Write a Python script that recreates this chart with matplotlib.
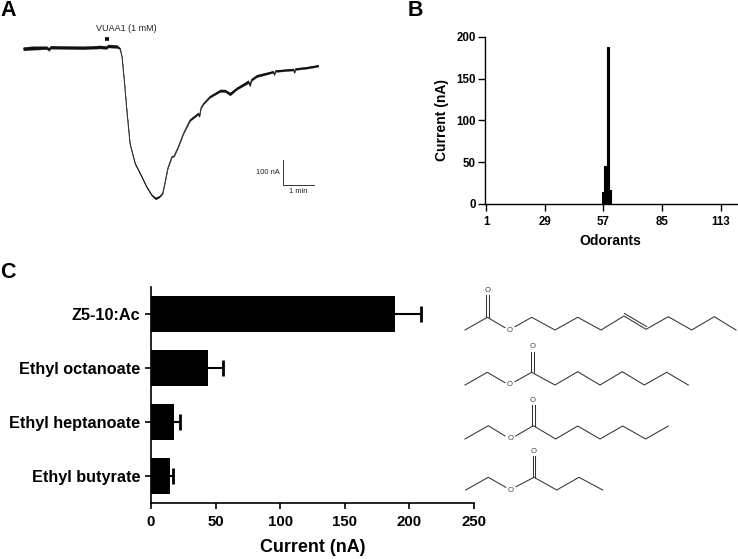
# -*- coding: utf-8 -*-
import matplotlib
matplotlib.use('Agg')
import matplotlib.pyplot as plt

plt.rcParams['font.family'] = ['Liberation Sans', 'DejaVu Sans']

W, H = 738, 559

# panel A - current trace (min, nA relative to baseline)
trace_t = [0, .31, .73, .80, .85, 1.35, 1.88, 2.40, 2.60, 2.65, 2.92, 3.02, 3.08, 3.15, 3.23, 3.33, 3.49, 3.65, 3.85, 4.01,
           4.13, 4.25, 4.35, 4.43, 4.51, 4.64, 4.71, 4.84, 5.0, 5.21, 5.47, 5.50, 5.55, 5.63, 5.83, 6.15, 6.30,
           6.46, 6.67, 7.03, 7.08, 7.13, 7.29, 7.81, 7.84, 7.88, 8.44, 8.47, 8.50, 8.85, 9.22]
trace_i = [-4, -1, 0, -7, 2, 1, 0, 3, 1, 7, 5, -3, -36, -129, -249, -383, -463, -503, -556, -589,
           -603, -596, -583, -536, -483, -436, -433, -396, -343, -289, -263, -275, -240, -223, -196, -172, -172,
           -185, -163, -136, -150, -128, -113, -96, -108, -93, -87, -100, -85, -80, -72]
trace_noise = [7, 7, 6, 6, 6, 6, 6, 6, 6, 6, 6, 3, 1, 1, 1, 2, 3, 3, 3, 3,
               4, 3, 2, 1, 1, 2, 2, 2, 2, 4, 4, 2, 3, 3, 4, 5, 5,
               6, 5, 6, 5, 5, 5, 4, 2, 4, 4, 2, 4, 4, 4]
stim_t = [2.55, 2.67]
stim_i = 34

# panel B - odorant screen
odorant_id = [57, 58, 59, 60]
odorant_current = [14, 45, 188, 17]
odorant_ticks = [1, 29, 57, 85, 113]
current_ticks = [0, 50, 100, 150, 200]

# panel C - responses
names = ['Z5-10:Ac', 'Ethyl octanoate', 'Ethyl heptanoate', 'Ethyl butyrate']
means = [189, 44.5, 17.5, 14.5]
sems = [20, 11, 5, 2.5]

# skeletal formulas, (x, y) vertices in px
mol_bonds = [
    [(465, 330), (487.3, 317.3), (505, 327.7)],
    [(515, 326.7), (531.7, 317.3), (555, 330), (577.7, 317.3), (601, 330), (624, 316),
     (646, 329.3), (668.3, 316.7), (691.7, 330), (714.3, 316.7), (736, 330)],
    [(465, 385), (487.3, 372.3), (505, 382.7)],
    [(515, 381.7), (531.7, 372.3), (555, 385), (577.7, 371.7), (600, 385), (622.3, 371.7),
     (644.3, 385), (666.7, 372.3), (688.3, 385)],
    [(465, 439), (488.3, 425.7), (505, 436)],
    [(515.7, 436), (533.3, 425.7), (555.7, 439), (577.7, 426), (600, 439), (622.7, 426),
     (645.7, 439), (668.3, 426)],
    [(465.7, 490), (488.3, 477.3), (505.7, 487.3)],
    [(516, 486.7), (534, 477.3), (556.7, 490), (579, 477.3), (602.7, 490)],
    [(624.5, 313.5), (646.5, 326.5)],
    [(486, 317), (486, 295)], [(488.7, 317), (488.7, 295)],
    [(531, 372), (531, 352)], [(533.7, 372), (533.7, 352)],
    [(532, 425.5), (532, 405)], [(534.7, 425.5), (534.7, 405)],
    [(532.7, 477), (532.7, 456)], [(535.4, 477), (535.4, 456)],
]
mol_oxygen = [(510, 330), (487.3, 291), (510, 385), (532.5, 346.5), (510.3, 439), (533, 400.5),
              (511, 490), (534, 451.5)]


def px_axes(left, top, right, bottom):
    return fig.add_axes([left / W, 1 - bottom / H, (right - left) / W, (bottom - top) / H])


fig = plt.figure(figsize=(W / 100, H / 100), dpi=100)

# ---- A
axA = px_axes(10, 20, 330, 215)
px_min, px_na = 32., 4.
axA.set_xlim((10 - 23.3) / px_min, (330 - 23.3) / px_min)
axA.set_ylim(-(215 - 47.7) * px_na, (47.7 - 20) * px_na)
axA.axis('off')
lower = [i - n for i, n in zip(trace_i, trace_noise)]
upper = [i + n for i, n in zip(trace_i, trace_noise)]
axA.fill_between(trace_t, lower, upper, color='#111111', lw=0.2)
axA.plot(trace_t, trace_i, color='#111111', lw=0.5)
axA.plot(stim_t, [stim_i, stim_i], color='k', lw=2.6, solid_capstyle='butt')
axA.text(3.22, 58, 'VUAA1 (1 mM)', fontsize=6.5, ha='center', va='bottom', color='#222222')
# scale bar
axA.plot([8.10, 8.10, 9.09], [-449, -549, -549], color='#333333', lw=0.7)
axA.text(8.0, -499, '100 nA', fontsize=5.4, ha='right', va='center', color='#222222')
axA.text(8.6, -562, '1 min', fontsize=5.4, ha='center', va='top', color='#222222')

# ---- B
axB = px_axes(485, 36.7, 738, 204)
axB.bar(odorant_id, odorant_current, width=1.0, color='k', edgecolor='k', lw=0.8)
axB.set_xlim(0.52, 121.2)
axB.set_ylim(0, 200)
axB.set_xticks(odorant_ticks)
axB.set_yticks(current_ticks)
axB.tick_params(width=1.0, length=5, labelsize=8.3, pad=1.5)
axB.tick_params(axis='x', pad=4)
for lab in axB.get_xticklabels() + axB.get_yticklabels():
    lab.set_fontweight('bold')
axB.set_xlabel('Odorants', fontsize=10, fontweight='bold', labelpad=3)
axB.xaxis.set_label_coords((610 - 485) / 253, -(241 - 204) / 167.3)
axB.xaxis.label.set_va('center')
axB.set_ylabel('Current (nA)', fontsize=10, fontweight='bold')
axB.yaxis.set_label_coords(-(485 - 442) / 253, (204 - 120) / 167.3)
axB.yaxis.label.set_va('center')
axB.spines[['top', 'right']].set_visible(False)
axB.spines[['left', 'bottom']].set_linewidth(1.0)

# ---- C
axC = px_axes(151, 287, 474, 502.7)
ypos = list(range(len(names)))
axC.barh(ypos, means, height=0.667, color='k', zorder=3)
eb = axC.errorbar(means, ypos, xerr=[[0] * 4, sems], fmt='none', ecolor='k', elinewidth=1.5, capsize=6, capthick=2.0,
                  zorder=2)
eb[1][0].set_visible(False)  # no cap on the bar end
axC.set_xlim(0, 250)
axC.set_ylim(3.5, -0.5)
axC.set_yticks(ypos)
axC.set_yticklabels(names, fontweight='bold', fontsize=11.7)
axC.set_xticks([0, 50, 100, 150, 200, 250])
axC.tick_params(width=1.2, length=4, pad=3.5)
axC.tick_params(axis='x', labelsize=10.8, pad=5)
for lab in axC.get_xticklabels():
    lab.set_fontweight('bold')
axC.set_xlabel('Current (nA)', fontsize=12.9, fontweight='bold')
axC.xaxis.set_label_coords((313 - 151) / 323, -(547 - 502.7) / 215.7)
axC.xaxis.label.set_va('center')
axC.spines[['top', 'right']].set_visible(False)
axC.spines[['left', 'bottom']].set_linewidth(1.2)

# ---- overlay for structures and panel letters
over = fig.add_axes([0, 0, 1, 1])
over.set_xlim(0, W)
over.set_ylim(H, 0)
over.axis('off')
over.patch.set_alpha(0)
for chain in mol_bonds:
    over.plot([p[0] for p in chain], [p[1] for p in chain], color='#333333', lw=0.75)
for x, y in mol_oxygen:
    over.text(x, y, 'O', fontsize=5.6, ha='center', va='center', color='#444444')
for letter, x, y in [('A', 0, 10), ('B', 408, 10), ('C', 0, 273)]:
    over.text(x, y, letter, fontsize=15.5, fontweight='bold', ha='left', va='center')

fig.savefig('out.png', dpi=100)
